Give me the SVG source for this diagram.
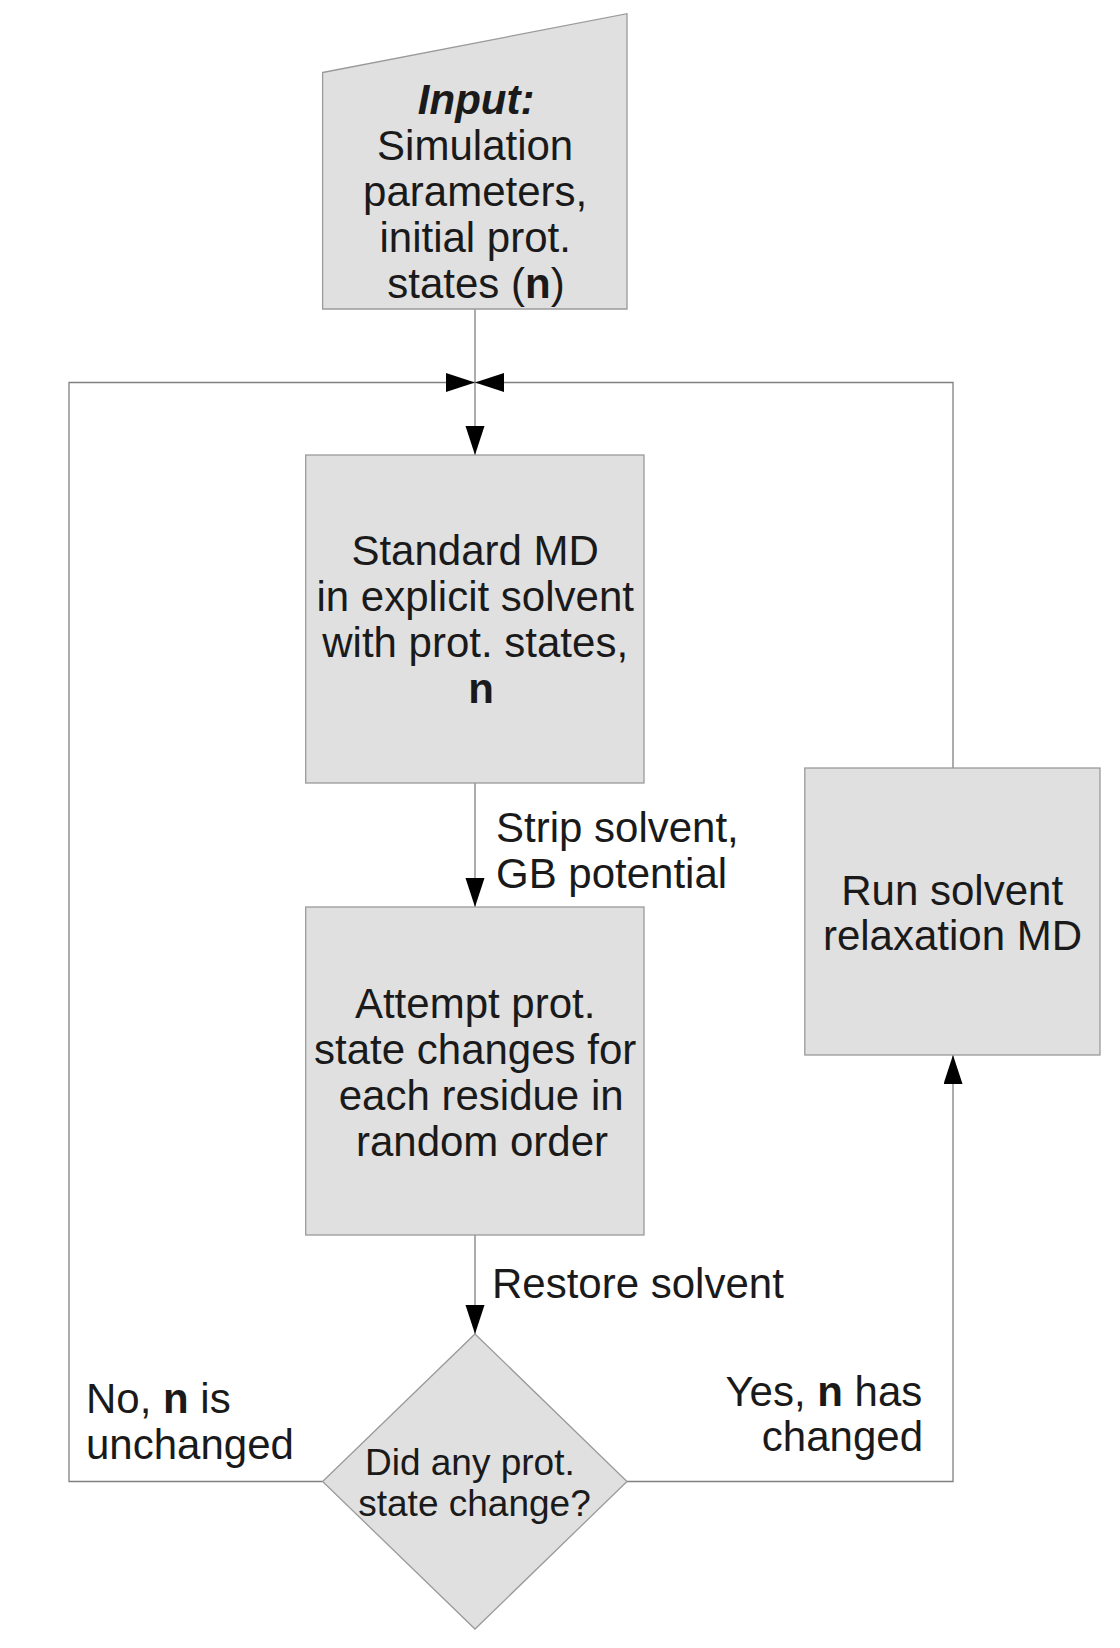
<svg xmlns="http://www.w3.org/2000/svg" width="1120" height="1648" viewBox="0 0 1120 1648">
  <defs>
    <style>
      .node { fill: #e0e0e0; stroke: #9a9a9a; stroke-width: 1.3; }
      .conn { fill: none; stroke: #808080; stroke-width: 1.3; }
      .t { font-family: "Liberation Sans", Arial, sans-serif; font-size: 42px; fill: #1a1a1a; }
      .c { text-anchor: middle; }
      .d { font-size: 37px; }
      .b { font-weight: bold; }
    </style>
    <marker id="arr" markerUnits="userSpaceOnUse" markerWidth="30" markerHeight="20" refX="29" refY="9.5" orient="auto">
      <path d="M0,0 L29,9.5 L0,19 z" fill="#000"/>
    </marker>
  </defs>
  <rect width="1120" height="1648" fill="#fff"/>

  <g id="connectors">
    <path class="conn" d="M475,309 V455" marker-end="url(#arr)"/>
    <path class="conn" d="M322.6,1481.5 H69 V382.5 H475" marker-end="url(#arr)"/>
    <path class="conn" d="M953,768 V382.5 H475" marker-end="url(#arr)"/>
    <path class="conn" d="M475,783 V907" marker-end="url(#arr)"/>
    <path class="conn" d="M475,1235 V1334" marker-end="url(#arr)"/>
    <path class="conn" d="M627,1481.5 H953 V1055" marker-end="url(#arr)"/>
  </g>

  <g id="input">
    <polygon class="node" points="322.6,72.5 627,13.7 627,309 322.6,309"/>
    <text class="t c">
      <tspan x="482" y="114" font-weight="bold" font-style="italic">Input:</tspan>
      <tspan x="481" y="160">Simulation</tspan>
      <tspan x="481" y="206">parameters,</tspan>
      <tspan x="481" y="252">initial prot.</tspan>
      <tspan x="476" y="298">states (<tspan class="b">n</tspan>)</tspan>
    </text>
  </g>

  <g id="standard-md">
    <rect class="node" x="305.7" y="455" width="338.3" height="328"/>
    <text class="t c">
      <tspan x="481" y="565">Standard MD</tspan>
      <tspan x="481" y="611">in explicit solvent</tspan>
      <tspan x="481" y="657">with prot. states,</tspan>
      <tspan x="481" y="703" class="b">n</tspan>
    </text>
  </g>

  <g id="label-strip">
    <text class="t">
      <tspan x="496" y="842">Strip solvent,</tspan>
      <tspan x="496" y="888">GB potential</tspan>
    </text>
  </g>

  <g id="attempt">
    <rect class="node" x="305.7" y="907" width="338.3" height="328"/>
    <text class="t c">
      <tspan x="481" y="1018">Attempt prot.</tspan>
      <tspan x="481" y="1063.5">state changes for</tspan>
      <tspan x="487" y="1110">each residue in</tspan>
      <tspan x="482" y="1156">random order</tspan>
    </text>
  </g>

  <g id="run-solvent">
    <rect class="node" x="804.8" y="768" width="295.2" height="287"/>
    <text class="t c">
      <tspan x="958" y="905">Run solvent</tspan>
      <tspan x="952.5" y="950">relaxation MD</tspan>
    </text>
  </g>

  <g id="label-restore">
    <text class="t" x="492" y="1298">Restore solvent</text>
  </g>

  <g id="decision">
    <polygon class="node" points="475,1334 627,1481.5 475,1629 322.6,1481.5"/>
    <text class="t d c">
      <tspan x="475" y="1475">Did any prot.</tspan>
      <tspan x="474.5" y="1516">state change?</tspan>
    </text>
  </g>

  <g id="label-no">
    <text class="t">
      <tspan x="86" y="1413">No, <tspan class="b">n</tspan> is</tspan>
      <tspan x="86" y="1459">unchanged</tspan>
    </text>
  </g>

  <g id="label-yes">
    <text class="t" text-anchor="end">
      <tspan x="934" y="1406">Yes, <tspan class="b">n</tspan> has</tspan>
      <tspan x="923" y="1451">changed</tspan>
    </text>
  </g>
</svg>
